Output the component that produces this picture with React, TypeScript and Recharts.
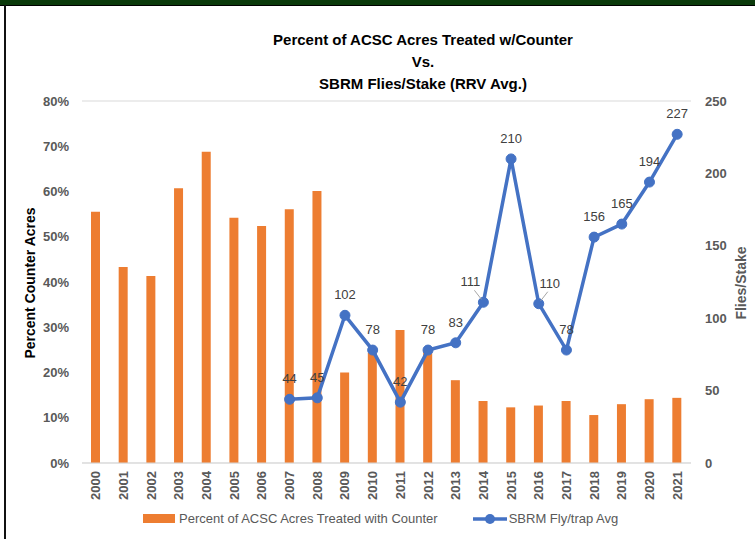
import React from "react";
import {
  ComposedChart,
  Bar,
  Line,
  XAxis,
  YAxis,
  CartesianGrid,
  LabelList,
} from "recharts";

const years = [
  "2000", "2001", "2002", "2003", "2004", "2005", "2006", "2007", "2008", "2009", "2010",
  "2011", "2012", "2013", "2014", "2015", "2016", "2017", "2018", "2019", "2020", "2021",
];
const pctCounter = [
  55.5, 43.3, 41.3, 60.7, 68.8, 54.2, 52.4, 56.1, 60.1, 20.0, 24.3,
  29.4, 25.0, 18.3, 13.7, 12.3, 12.7, 13.7, 10.6, 13.0, 14.1, 14.4,
];
const fliesPerStake: (number | null)[] = [
  null, null, null, null, null, null, null, 44, 45, 102, 78,
  42, 78, 83, 111, 210, 110, 78, 156, 165, 194, 227,
];
const pctTicks = [0, 10, 20, 30, 40, 50, 60, 70, 80];
const flyTicks = [0, 50, 100, 150, 200, 250];

const chartData = years.map((year, i) => ({
  year,
  pct: pctCounter[i],
  flies: fliesPerStake[i],
}));

const FONT = "'Liberation Sans', Arial, sans-serif";
const GREY = "#595959";
const ORANGE = "#ED7D31";
const BLUE = "#4472C4";

// a couple of labels sit beside their point with a small leader line
const labelShift: Record<string, number> = { "2014": -13, "2016": 11 };

function YearTick({ x, y, payload }: any) {
  return (
    <text
      x={x}
      y={y}
      transform={`rotate(-90 ${x} ${y})`}
      textAnchor="end"
      dominantBaseline="central"
      fill={GREY}
      fontSize={13}
      fontWeight="bold"
      fontFamily={FONT}
    >
      {payload.value}
    </text>
  );
}

function FlyLabel(props: any) {
  const { x, y, value, index } = props;
  if (value == null) return null;
  const shift = labelShift[years[index]] ?? 0;
  const lx = x + shift;
  const ly = y - 16;
  return (
    <g>
      {shift !== 0 && (
        <line
          x1={x + (shift < 0 ? -2 : 2)}
          y1={y - 3}
          x2={x + (shift < 0 ? -9 : 9)}
          y2={y - 12}
          stroke="#a6a6a6"
          strokeWidth={1}
        />
      )}
      <text x={lx} y={ly} textAnchor="middle" fill="#404040" fontSize={13} fontFamily={FONT}>
        {value}
      </text>
    </g>
  );
}

export default function App() {
  return (
    <div
      style={{
        position: "absolute",
        top: 0,
        left: 0,
        width: 755,
        height: 539,
        background: "#fff",
        fontFamily: FONT,
        overflow: "hidden",
      }}
    >
      <div style={{ position: "absolute", top: 0, left: 0, width: 755, height: 5, background: "#0b3a0b", borderBottom: "1px solid #000" }} />
      <div style={{ position: "absolute", top: 5, left: 4, width: 2, height: 534, background: "#111" }} />

      <div
        style={{
          position: "absolute",
          top: 29,
          left: 0,
          width: 846,
          textAlign: "center",
          fontWeight: "bold",
          fontSize: 15,
          lineHeight: "22px",
          color: "#000",
        }}
      >
        Percent of ACSC Acres Treated w/Counter
        <br />
        Vs.
        <br />
        SBRM Flies/Stake (RRV Avg.)
      </div>

      <ComposedChart
        width={755}
        height={539}
        data={chartData}
        margin={{ top: 101, right: 0, left: 0, bottom: 36 }}
        barCategoryGap={0}
      >
        <CartesianGrid stroke="#d9d9d9" vertical={false} />
        <XAxis
          dataKey="year"
          height={40}
          interval={0}
          tick={<YearTick />}
          tickLine={false}
          axisLine={{ stroke: "#d9d9d9" }}
        />
        <YAxis
          yAxisId="pct"
          width={82}
          domain={[0, 80]}
          ticks={pctTicks}
          tickFormatter={(v) => `${v}%`}
          tick={{ fill: GREY, fontSize: 13, fontWeight: "bold", fontFamily: FONT }}
          tickMargin={7}
          tickLine={false}
          axisLine={false}
        />
        <YAxis
          yAxisId="flies"
          orientation="right"
          width={64}
          domain={[0, 250]}
          ticks={flyTicks}
          tick={{ fill: GREY, fontSize: 13, fontWeight: "bold", fontFamily: FONT }}
          tickMargin={8}
          tickLine={false}
          axisLine={false}
        />
        <Bar
          yAxisId="pct"
          dataKey="pct"
          fill={ORANGE}
          barSize={9}
          isAnimationActive={false}
        />
        <Line
          yAxisId="flies"
          dataKey="flies"
          stroke={BLUE}
          strokeWidth={3.5}
          dot={{ r: 5, fill: BLUE, stroke: BLUE, strokeWidth: 1 }}
          connectNulls={false}
          isAnimationActive={false}
        >
          <LabelList dataKey="flies" content={<FlyLabel />} />
        </Line>
      </ComposedChart>

      <div
        style={{
          position: "absolute",
          left: 30,
          top: 283,
          transform: "translate(-50%, -50%) rotate(-90deg)",
          whiteSpace: "nowrap",
          fontWeight: "bold",
          fontSize: 14,
          color: "#000",
        }}
      >
        Percent Counter Acres
      </div>
      <div
        style={{
          position: "absolute",
          left: 741,
          top: 283,
          transform: "translate(-50%, -50%) rotate(-90deg)",
          whiteSpace: "nowrap",
          fontWeight: "bold",
          fontSize: 14,
          color: GREY,
        }}
      >
        Flies/Stake
      </div>

      <div
        style={{
          position: "absolute",
          top: 511,
          left: 143,
          display: "flex",
          alignItems: "center",
          fontSize: 13,
          color: GREY,
          whiteSpace: "nowrap",
        }}
      >
        <span style={{ display: "inline-block", width: 32, height: 9, background: ORANGE, marginRight: 4 }} />
        <span>Percent of ACSC Acres Treated with Counter</span>
        <svg width={36} height={12} style={{ marginLeft: 34, marginRight: 1 }}>
          <line x1={1} y1={6} x2={35} y2={6} stroke={BLUE} strokeWidth={3.5} />
          <circle cx={18} cy={6} r={5} fill={BLUE} />
        </svg>
        <span>SBRM Fly/trap Avg</span>
      </div>
    </div>
  );
}
